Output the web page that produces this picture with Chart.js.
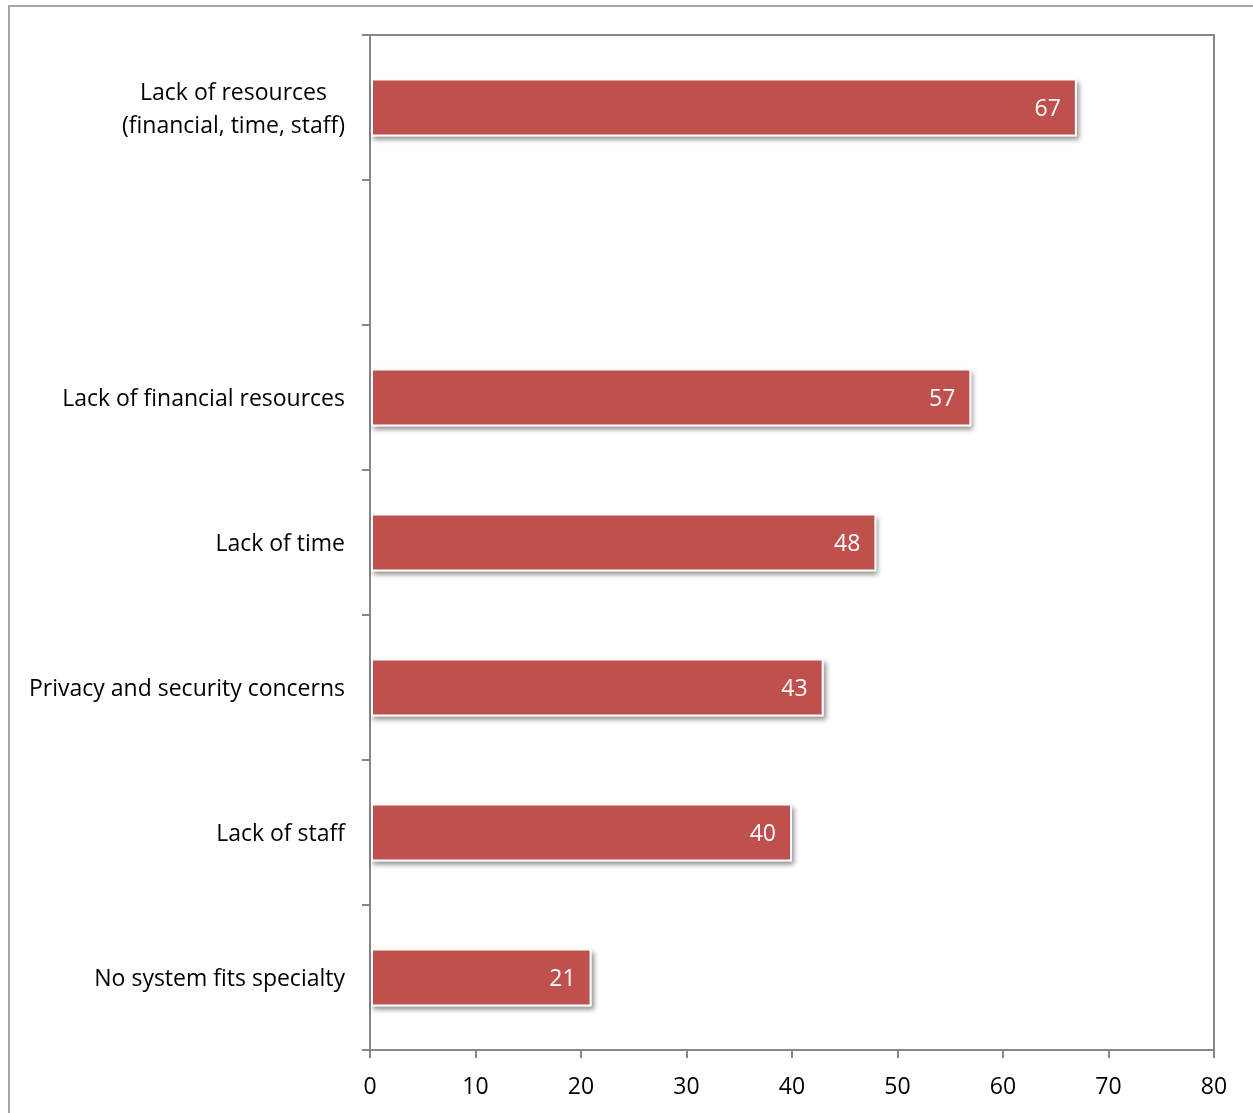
<!DOCTYPE html>
<html>
<head>
<meta charset="utf-8">
<script src="https://cdn.jsdelivr.net/npm/chart.js@4/dist/chart.umd.min.js"></script>
<style>
  html, body { margin: 0; padding: 0; background: #fff; }
  #wrap { width: 1253px; height: 1113px; }
</style>
</head>
<body>
<div id="wrap"><canvas id="barrierChart" width="1253" height="1113"></canvas></div>
<script>
const categories = [
    ["Lack of resources", "(financial, time, staff)"],
    "",
    "Lack of financial resources",
    "Lack of time",
    "Privacy and security concerns",
    "Lack of staff",
    "No system fits specialty"
];
const percentValues = [67, null, 57, 48, 43, 40, 21];
const xTicks = [0, 10, 20, 30, 40, 50, 60, 70, 80];

const FONT = "'Open Sans', Lato, sans-serif";
const FONT_SIZE = 23;
const barRed = '#C0504D';
const axisGray = '#878787';

// outer frame + top/right border of the plot
const framePlugin = {
    id: 'frame',
    beforeDraw(chart) {
        const ctx = chart.ctx;
        ctx.save();
        ctx.strokeStyle = '#A6A6A6';
        ctx.lineWidth = 2;
        ctx.strokeRect(9, 6, 1400, 1300);
        ctx.restore();
    },
    afterDraw(chart) {
        const a = chart.chartArea;
        const ctx = chart.ctx;
        ctx.save();
        ctx.strokeStyle = axisGray;
        ctx.lineWidth = 2;
        ctx.beginPath();
        ctx.moveTo(a.left, a.top);
        ctx.lineTo(a.right, a.top);
        ctx.lineTo(a.right, a.bottom);
        ctx.stroke();
        ctx.restore();
    }
};

// soft shadow under each bar
const shadowPlugin = {
    id: 'barShadow',
    beforeDatasetsDraw(chart) {
        const ctx = chart.ctx;
        const meta = chart.getDatasetMeta(0);
        ctx.save();
        meta.data.forEach((bar, i) => {
            if (percentValues[i] == null) return;
            const left = bar.base, right = bar.x;
            const top = bar.y - bar.height / 2, h = bar.height;
            ctx.shadowColor = 'rgba(0,0,0,0.45)';
            ctx.shadowBlur = 5;
            ctx.shadowOffsetX = 2;
            ctx.shadowOffsetY = 3;
            ctx.fillStyle = '#fff';
            ctx.fillRect(left, top, right - left, h);
        });
        ctx.restore();
    }
};

// value labels inside the bar end + category labels (centred lines)
const labelPlugin = {
    id: 'labels',
    afterDatasetsDraw(chart) {
        const ctx = chart.ctx;
        const meta = chart.getDatasetMeta(0);
        ctx.save();
        ctx.font = FONT_SIZE + 'px ' + FONT;
        ctx.fillStyle = '#fff';
        ctx.textAlign = 'right';
        ctx.textBaseline = 'middle';
        meta.data.forEach((bar, i) => {
            if (percentValues[i] == null) return;
            ctx.fillText(String(percentValues[i]), bar.x - 16, bar.y + 2);
        });

        const yScale = chart.scales.y;
        const rightEdge = chart.chartArea.left - 25;
        ctx.fillStyle = '#000';
        categories.forEach((lab, i) => {
            if (!lab) return;
            const yc = yScale.getPixelForValue(i) + 2;
            const lines = Array.isArray(lab) ? lab : [lab];
            const widths = lines.map(l => ctx.measureText(l).width);
            const maxW = Math.max(...widths);
            const cx = rightEdge - maxW / 2;
            const lh = 33;
            ctx.textAlign = 'center';
            lines.forEach((l, k) => {
                ctx.fillText(l, cx, yc + (k - (lines.length - 1) / 2) * lh);
            });
        });
        ctx.restore();
    }
};

const ctx = document.getElementById('barrierChart').getContext('2d');
new Chart(ctx, {
    type: 'bar',
    data: {
        labels: categories,
        datasets: [{
            data: percentValues,
            backgroundColor: barRed,
            borderColor: '#ffffff',
            borderWidth: 2,
            borderSkipped: false,
            barPercentage: 0.4,
            categoryPercentage: 1
        }]
    },
    options: {
        indexAxis: 'y',
        responsive: false,
        animation: false,
        layout: { padding: { top: 35, right: 39, left: 0, bottom: 0 } },
        plugins: {
            legend: { display: false },
            tooltip: { enabled: false }
        },
        scales: {
            x: {
                min: 0,
                max: 80,
                afterBuildTicks: scale => { scale.ticks = xTicks.map(v => ({ value: v })); },
                afterFit: scale => { scale.height = 63; },
                grid: {
                    drawOnChartArea: false,
                    color: axisGray,
                    lineWidth: 2,
                    tickLength: 8
                },
                border: { color: axisGray, width: 2 },
                ticks: {
                    color: '#000',
                    font: { family: FONT, size: FONT_SIZE },
                    padding: 16
                }
            },
            y: {
                afterFit: scale => { scale.width = 370; },
                grid: {
                    offset: true,
                    drawOnChartArea: false,
                    color: axisGray,
                    lineWidth: 2,
                    tickLength: 8
                },
                border: { color: axisGray, width: 2 },
                ticks: { display: false }
            }
        }
    },
    plugins: [framePlugin, shadowPlugin, labelPlugin]
});
</script>
</body>
</html>
